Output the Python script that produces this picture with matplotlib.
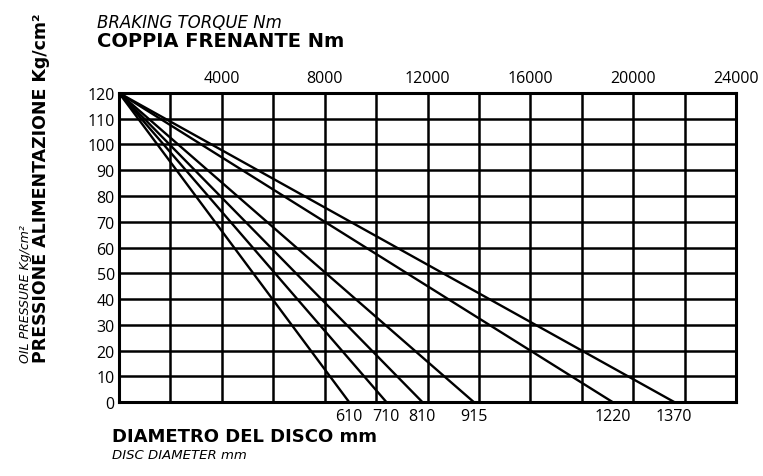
import matplotlib
matplotlib.use('Agg')
import matplotlib.pyplot as plt
import matplotlib.transforms as mtransforms

# disc diameters (mm) and the torque where each line hits 0 pressure
disc_labels = ['610', '710', '810', '915', '1220', '1370']
torque_end = [8950, 10400, 11800, 13800, 19200, 21600]
start_pressure = 120

x_grid = list(range(0, 24001, 2000))
y_grid = list(range(0, 121, 10))
top_ticks = [4000, 8000, 12000, 16000, 20000, 24000]

fig = plt.figure(figsize=(7.63, 4.77), dpi=100)
ax = fig.add_axes([0.156, 0.155, 0.8086, 0.648])

lw = 1.8
for x in x_grid:
    ax.axvline(x, color='black', lw=lw, zorder=1)
for y in y_grid:
    ax.axhline(y, color='black', lw=lw, zorder=1)

for t in torque_end:
    ax.plot([0, t], [start_pressure, 0], color='black', lw=1.7, zorder=2,
            solid_capstyle='butt')

ax.set_xlim(0, 24000)
ax.set_ylim(0, 120)
for s in ax.spines.values():
    s.set_linewidth(2.2)

tick_font = 'Open Sans'
ax.xaxis.tick_top()
ax.set_xticks(top_ticks)
ax.set_xticklabels([str(t) for t in top_ticks], fontsize=11.5, family=tick_font)
ax.set_yticks(y_grid)
ax.set_yticklabels([str(v) for v in y_grid], fontsize=11.5, family=tick_font)
ax.tick_params(length=0, pad=3)
ax.tick_params(axis='x', pad=5)

# disc diameter labels under the line ends
trans = mtransforms.blended_transform_factory(ax.transData, ax.transAxes)
for lab, t in zip(disc_labels, torque_end):
    ax.text(t, -0.045, lab, transform=trans, ha='center', va='center',
            fontsize=11.5, family=tick_font)

# titles
fig.text(0.127, 0.952, 'BRAKING TORQUE Nm', fontsize=12, style='italic',
         family='DejaVu Sans', va='center', ha='left')
fig.text(0.127, 0.914, 'COPPIA FRENANTE Nm', fontsize=14, weight='bold',
         family='DejaVu Sans', va='center', ha='left')
fig.text(0.147, 0.084, 'DIAMETRO DEL DISCO mm', fontsize=13, weight='bold',
         family='DejaVu Sans', va='center', ha='left')
fig.text(0.147, 0.046, 'DISC DIAMETER mm', fontsize=9.5, style='italic',
         family='DejaVu Sans', va='center', ha='left')
fig.text(0.054, 0.239, 'PRESSIONE ALIMENTAZIONE Kg/cm²', fontsize=12.5,
         weight='bold', family='DejaVu Sans', rotation=90,
         ha='center', va='bottom')
fig.text(0.034, 0.239, 'OIL PRESSURE Kg/cm²', fontsize=9, style='italic',
         family='DejaVu Sans', rotation=90, ha='center', va='bottom')

fig.savefig('out.png', dpi=100)
